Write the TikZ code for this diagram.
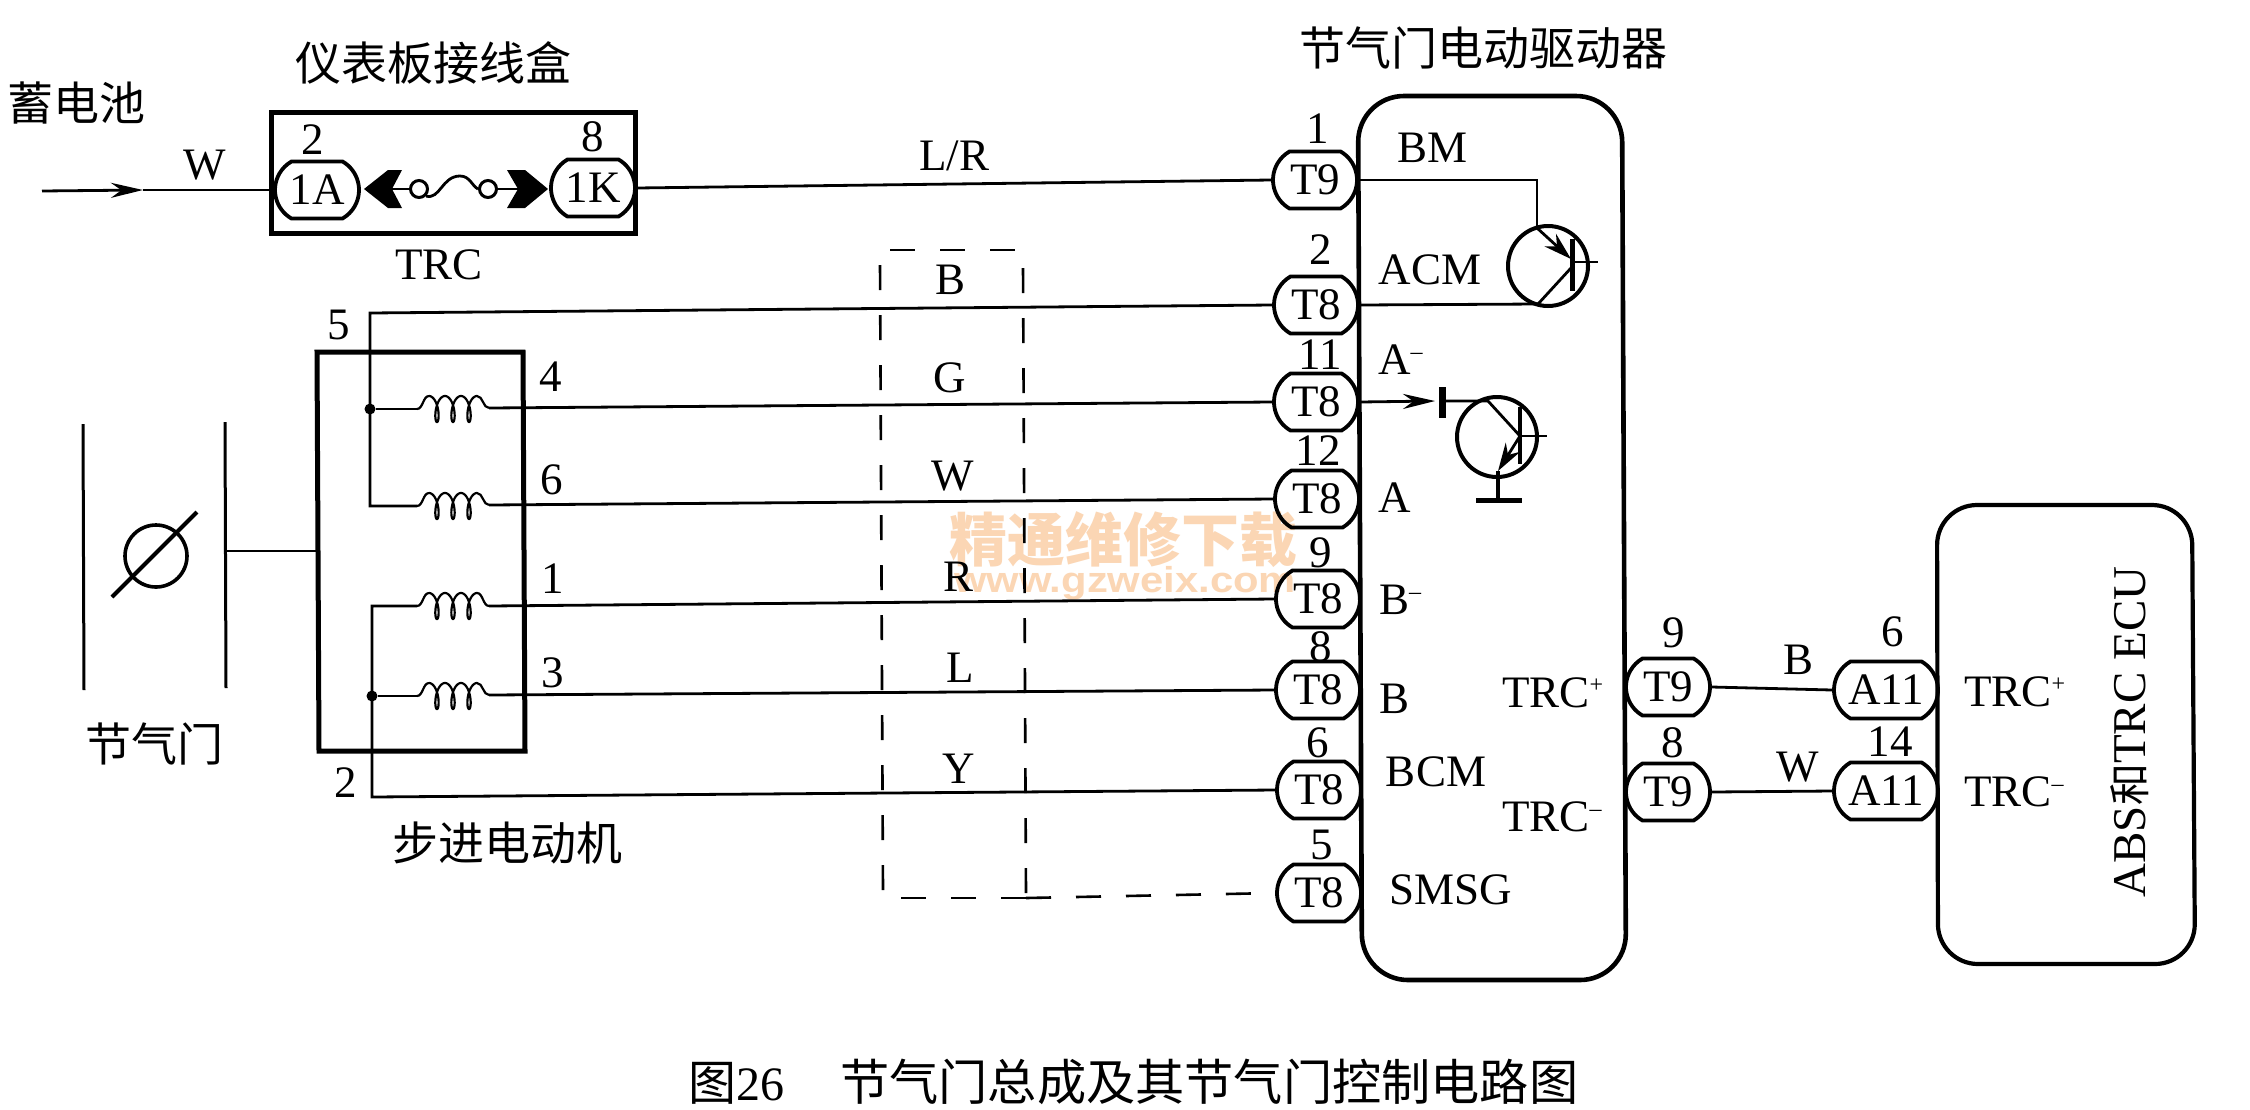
\documentclass[tikz,border=0pt]{standalone}
\usepackage{fontspec}
\setmainfont{Liberation Serif}
\newfontfamily\cjk{Noto Sans CJK SC}
\newfontfamily\wmfont{Liberation Sans}
\usetikzlibrary{shapes.misc,arrows.meta}
\definecolor{wmark}{HTML}{FBD6B4}
\newcommand{\supmark}[1]{\raisebox{15pt}{\fontsize{24}{24}\selectfont #1}}
\newcommand{\coilshape}[3]{%
  \coordinate (#1l) at (417,#2);
  \coordinate (#1r) at (489,#3);
  \draw[coilwire] (#1l) .. controls (423,#2) and (423,#2-13) .. (429,#2-13)
    plot[domain=-9.4248:9.4248,samples=140] ({453+2.55*\x-5*sin(\x r)},{#2+13*cos(\x r)})
    .. controls (483,#2-13) and (483,#3) .. (#1r);
}
\tikzset{
  lab/.style={font=\fontsize{45}{50}\selectfont,inner sep=0pt},
  hz/.style={font=\cjk\fontsize{46}{50}\selectfont,inner sep=0pt},
  pill/.style={draw,line width=3.8pt,rounded rectangle,rounded rectangle arc length=120,
    minimum width=84pt,minimum height=57pt,inner sep=0pt,font=\fontsize{45}{50}\selectfont},
  apill/.style={pill,minimum width=104pt},
  wire/.style={line width=2.8pt},
  coilwire/.style={line width=2.2pt},
  heavy/.style={line width=5pt},
  dashb/.style={line width=2.6pt,dash pattern=on 25pt off 25pt},
  jdot/.style={circle,fill=black,inner sep=0pt,minimum size=11pt},
  tip/.style={-{Stealth[length=32pt,width=15pt]}},
  small tip/.style={-{Stealth[length=28pt,width=17pt]}}
}
\begin{document}
\begin{tikzpicture}[x=1pt,y=-1pt,line join=miter]
\useasboundingbox (0,0) rectangle (2250,1109);
\fill[white] (0,0) rectangle (2250,1109);

% watermark
\node[font=\cjk\bfseries\fontsize{58}{60}\selectfont,text=wmark,inner sep=0pt] (wm1) at (1123,540) {精通维修下载};
\node[font=\wmfont\bfseries\fontsize{36}{40}\selectfont,text=wmark,inner sep=0pt,xscale=1.16] (wm2) at (1125,583) {www.gzweix.com};

% junction box
\draw[heavy] (271,112) rectangle (635,233);
\node[pill] (p1A) at (317,190) {1A};
\node[pill] (p1K) at (593,188) {1K};
\node[lab] (n2a) at (313,140) {2};
\node[lab] (n8a) at (593,137) {8};
\node[lab] (lbW) at (205,165) {W};
\node[lab] (lbTRC) at (439,265) {TRC};
\node[hz] (tBatt) at (77,103) {蓄电池};
\node[hz] (tBox) at (433,63) {仪表板接线盒};
\coordinate (battin) at (42,191);
\coordinate (battip) at (143,190);
\draw[wire,tip] (battin) -- (battip);
\draw[wire] (battip) -- (p1A.west);
% fuse
\fill (364,189) -- (388,170) -- (402,170) -- (392,189) -- (402,208) -- (388,208) -- cycle;
\fill (548,189) -- (525,170) -- (507,170) -- (518,189) -- (507,208) -- (525,208) -- cycle;
\node[draw,circle,line width=3pt,minimum size=17pt,inner sep=0pt] (fa) at (419,189) {};
\node[draw,circle,line width=3pt,minimum size=17pt,inner sep=0pt] (fb) at (488,189) {};
\draw[wire] (392,189) -- (fa.west);
\draw[wire] (fb.east) -- (518,189);
\draw[wire] (fa.south east) .. controls (440,200) and (442,176) .. (460,176) .. controls (470,176) and (472,186) .. (fb.west);

% driver box
\draw[line width=4.6pt] [rounded corners=46pt] (1358,96) -- (1622,96) -- (1626,980) -- (1362,980) -- cycle;
\node[hz] (tDrv) at (1483,48) {节气门电动驱动器};

% driver connectors
\node[pill] (T1) at (1315,180) {T9};
\node[pill] (T2) at (1316,305) {T8};
\node[pill] (T11) at (1316,402) {T8};
\node[pill] (T12) at (1317,499) {T8};
\node[pill] (T9) at (1318,599) {T8};
\node[pill] (T8) at (1318,690) {T8};
\node[pill] (T6) at (1319,790) {T8};
\node[pill] (T5) at (1319,893) {T8};
\node[lab] (n1) at (1318,129) {1};
\node[lab] (n2) at (1321,250) {2};
\node[lab] (n11) at (1320,355) {11};
\node[lab] (n12) at (1318,451) {12};
\node[lab] (n9) at (1321,553) {9};
\node[lab] (n8) at (1321,647) {8};
\node[lab] (n6) at (1318,743) {6};
\node[lab] (n5) at (1322,845) {5};

% driver pin names
\node[lab] (pBM) at (1432,148) {BM};
\node[lab] (pACM) at (1430,270) {ACM};
\node[lab,anchor=west] (pAm) at (1378,360) {A\supmark{–}};
\node[lab,anchor=west] (pA) at (1378,498) {A};
\node[lab,anchor=west] (pBm) at (1379,600) {B\supmark{–}};
\node[lab,anchor=west] (pB) at (1379,699) {B};
\node[lab] (pBCM) at (1436,772) {BCM};
\node[lab,anchor=west] (pSMSG) at (1389,890) {SMSG};
\node[lab,anchor=west] (pTp) at (1502,693) {TRC\supmark{+}};
\node[lab,anchor=west] (pTm) at (1502,817) {TRC\supmark{–}};

% upper transistor
\node[draw,circle,line width=4pt,minimum size=80pt,inner sep=0pt] (Q1) at (1548,266) {};
\coordinate (q1c) at (1537,228);
\coordinate (q1e) at (1538,304);
\coordinate (q1m) at (1571,259);
\coordinate (q1n) at (1571,268);
\coordinate (q1bt) at (1572,239);
\coordinate (q1bb) at (1572,291);
\coordinate (q1bm) at (1572,262);
\coordinate (q1bx) at (1598,262);
\draw[wire] (T1.east) -- (1537,180) -- (q1c);
\draw[wire] (T2.east) -- (q1e);
\draw[wire,small tip] (q1c) -- (q1m);
\draw[wire] (q1n) -- (q1e);
\draw[line width=5pt] (q1bt) -- (q1bb);
\draw[wire] (q1bm) -- (q1bx);

% lower transistor
\node[draw,circle,line width=4pt,minimum size=80pt,inner sep=0pt] (Q2) at (1497,437) {};
\coordinate (bar1) at (1442,387);
\coordinate (bar2) at (1442,418);
\coordinate (bart) at (1435,401);
\coordinate (barm) at (1442,401);
\coordinate (q2c) at (1488,401);
\coordinate (q2b) at (1520,436);
\coordinate (q2bt) at (1520,407);
\coordinate (q2bb) at (1520,464);
\coordinate (q2bx) at (1547,436);
\coordinate (q2e) at (1498,471);
\coordinate (gnd) at (1498,500);
\coordinate (gndl) at (1476,500);
\coordinate (gndr) at (1522,500);
\draw[wire,tip] (T11.east) -- (bart);
\draw[line width=7pt] (bar1) -- (bar2);
\draw[wire] (barm) -- (q2c) -- (q2b);
\draw[line width=4pt] (q2bt) -- (q2bb);
\draw[wire] (q2b) -- (q2bx);
\draw[wire,small tip] (q2b) -- (q2e);
\draw[line width=4pt] (q2e) -- (gnd);
\draw[line width=5pt] (gndl) -- (gndr);

% throttle
\coordinate (thA) at (83,424);
\coordinate (thB) at (84,690);
\coordinate (thC) at (225,422);
\coordinate (thD) at (226,688);
\coordinate (thE) at (225,551);
\draw[line width=3pt] (thA) -- (thB);
\draw[line width=3pt] (thC) -- (thD);
\node[draw,circle,line width=3.6pt,minimum size=62pt,inner sep=0pt] (thr) at (156,556) {};
\draw[line width=4pt] (112,597) -- (197,512);
\node[hz] (tThr) at (154,744) {节气门};

% stepper motor
\draw[heavy] (317,352) -- (523,352) -- (525,751) -- (319,751) -- cycle;
\coordinate (mL) at (317,551);
\draw[wire] (thE) -- (mL);
\node[hz] (tMot) at (507,843) {步进电动机};
\node[lab] (m5) at (339,325) {5};
\node[lab] (m4) at (551,377) {4};
\node[lab] (m6) at (552,480) {6};
\node[lab] (m1) at (553,579) {1};
\node[lab] (m3) at (553,673) {3};
\node[lab] (m2) at (346,783) {2};

\coilshape{ca}{409}{408}
\coilshape{cb}{506}{505}
\coilshape{cc}{606}{606}
\coilshape{cd}{696}{695}

\coordinate (bt) at (370,313);
\coordinate (bbm) at (370,506);
\coordinate (bbt) at (372,606);
\coordinate (bbb) at (372,797);
\node[jdot] (d1) at (370,409) {};
\node[jdot] (d2) at (372,696) {};
\draw[wire] (T2.west) -- (bt) -- (bbm) -- (cbl);
\draw[wire] (cal) -- (d1);
\draw[wire] (ccl) -- (bbt) -- (bbb) -- (T6.west);
\draw[wire] (cdl) -- (d2);
\draw[wire] (car) -- (T11.west);
\draw[wire] (cbr) -- (T12.west);
\draw[wire] (ccr) -- (T9.west);
\draw[wire] (cdr) -- (T8.west);
\draw[wire] (p1K.east) -- (T1.west);

% dashed box
\draw[dashb] (890,250) -- (1016,250);
\draw[dashb] (880,265) -- (883,892);
\draw[dashb] (1023,268) -- (1026,895);
\coordinate (dbl) at (901,898);
\coordinate (dbr) at (1026,898);
\draw[dashb] (dbl) -- (dbr);
\draw[dashb] (dbr) -- (T5.west);

% wire colours
\node[lab] (cLR) at (954,156) {L/R};
\node[lab] (cB) at (950,280) {B};
\node[lab] (cG) at (950,378) {G};
\node[lab] (cW) at (953,476) {W};
\node[lab] (cR) at (958,577) {R};
\node[lab] (cL) at (960,668) {L};
\node[lab] (cY) at (959,769) {Y};

% ECU side
\node[pill] (E1) at (1668,687) {T9};
\node[pill] (E2) at (1668,792) {T9};
\node[apill] (F1) at (1886,690) {A11};
\node[apill] (F2) at (1886,791) {A11};
\node[lab] (e9) at (1674,633) {9};
\node[lab] (e8) at (1673,743) {8};
\node[lab] (f6) at (1893,632) {6};
\node[lab] (f14) at (1890,742) {14};
\node[lab] (eB) at (1798,660) {B};
\node[lab] (eW) at (1798,767) {W};
\draw[wire] (E1.east) -- (F1.west);
\draw[wire] (E2.east) -- (F2.west);

\draw[line width=4.2pt,rounded corners=40pt] (1937,505) -- (2192,505) -- (2195,964) -- (1938,964) -- cycle;
\node[lab,anchor=west] (gTp) at (1964,692) {TRC\supmark{+}};
\node[lab,anchor=west] (gTm) at (1964,792) {TRC\supmark{–}};
\node[lab,rotate=90,font=\fontsize{47}{50}\selectfont] (tECU) at (2130,732) {ABS{\cjk\fontsize{42}{50}\selectfont 和}TRC ECU};

% caption
\node[inner sep=0pt,anchor=west,font=\fontsize{48}{52}\selectfont] (cap) at (688,1082)
  {{\cjk 图}26\hspace{56pt}{\cjk\fontsize{49.2}{52}\selectfont 节气门总成及其节气门控制电路图}};
\end{tikzpicture}
\end{document}
